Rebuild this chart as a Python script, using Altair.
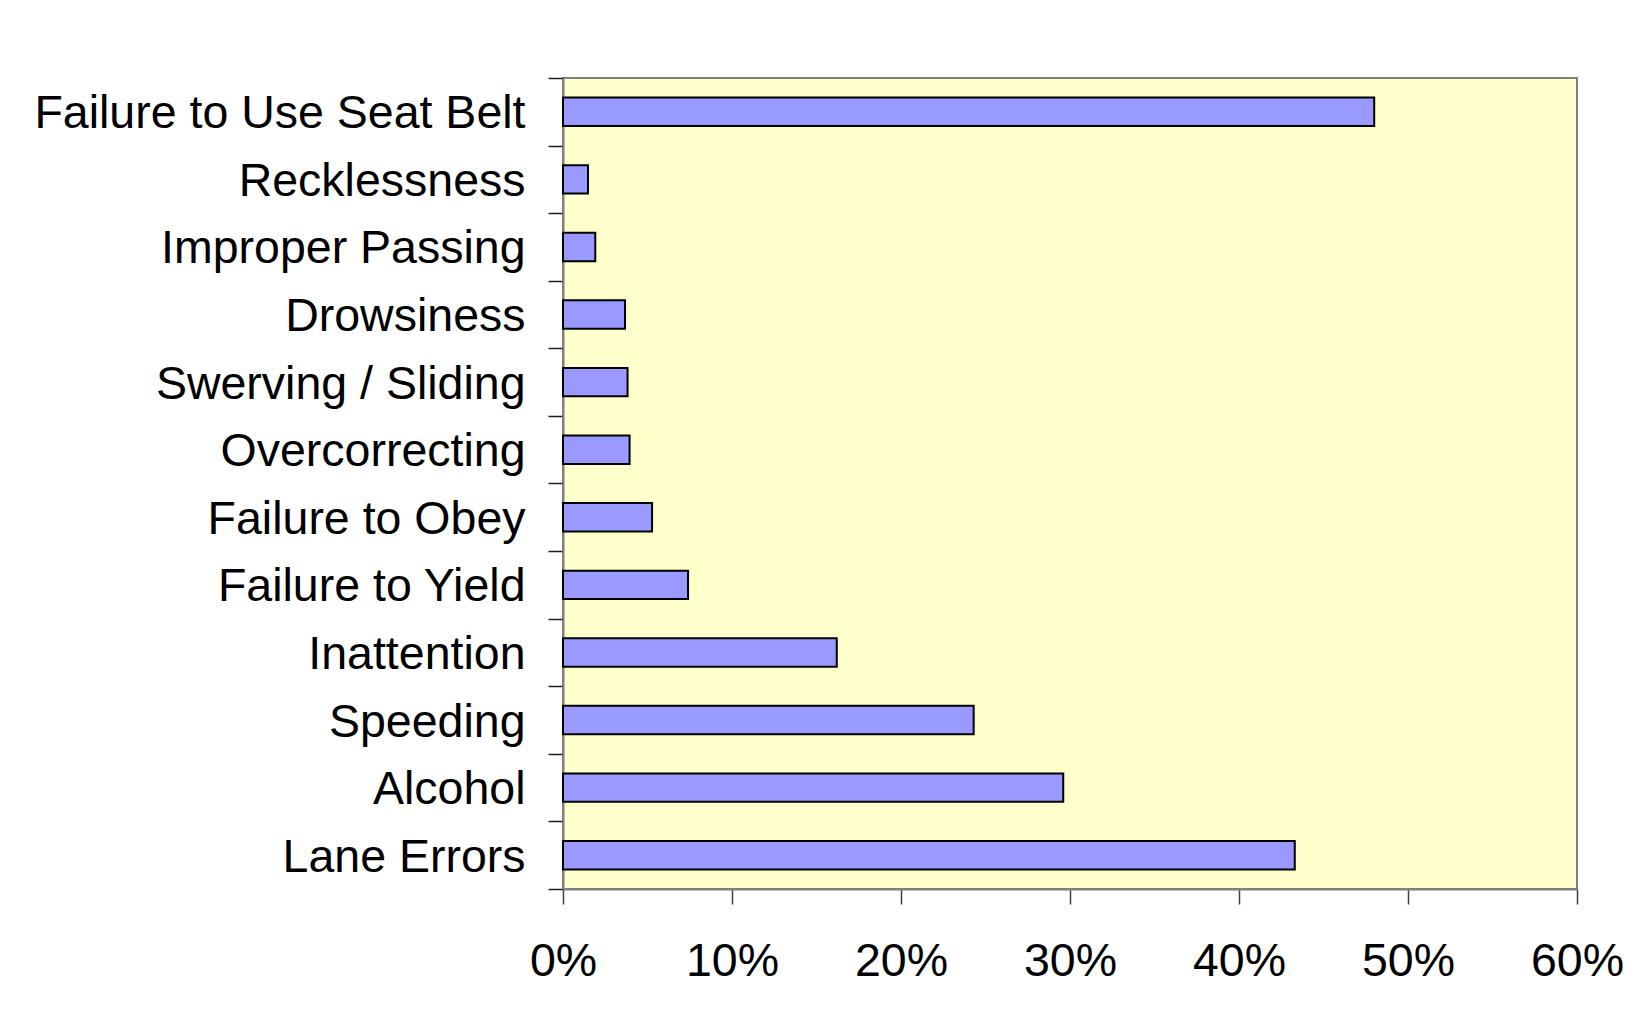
import altair as alt
import pandas as pd

categories = [
    "Failure to Use Seat Belt",
    "Recklessness",
    "Improper Passing",
    "Drowsiness",
    "Swerving / Sliding",
    "Overcorrecting",
    "Failure to Obey",
    "Failure to Yield",
    "Inattention",
    "Speeding",
    "Alcohol",
    "Lane Errors",
]
shares = [0.480, 0.0148, 0.0191, 0.0367, 0.0382, 0.0394, 0.0527, 0.074, 0.162, 0.243, 0.296, 0.433]
x_tick_values = [0.0, 0.1, 0.2, 0.3, 0.4, 0.5, 0.6]

df = pd.DataFrame({"cause": categories, "share": shares})

FONT = "Liberation Sans, Arial, Helvetica, sans-serif"

chart = (
    alt.Chart(df)
    .mark_bar(fill="#9999FF", stroke="#000000", strokeWidth=2, height=alt.RelativeBandSize(0.42))
    .encode(
        x=alt.X(
            "share:Q",
            title=None,
            scale=alt.Scale(domain=[0, 0.6], nice=False, zero=True),
            axis=alt.Axis(
                values=x_tick_values,
                format=".0%",
                grid=False,
                domainColor="#808080",
                domainWidth=2,
                tickColor="#404040",
                tickWidth=1.5,
                tickSize=15,
                labelFont=FONT,
                labelFontSize=46.5,
                labelColor="#000000",
                labelPadding=34,
                labelFlush=False,
                labelOverlap=False,
            ),
        ),
        y=alt.Y(
            "cause:N",
            title=None,
            sort=categories,
            scale=alt.Scale(paddingInner=0, paddingOuter=0),
            axis=alt.Axis(
                tickBand="extent",
                grid=False,
                domainColor="#808080",
                domainWidth=2,
                tickColor="#202020",
                tickWidth=1.5,
                tickSize=15,
                labelFont=FONT,
                labelFontSize=46.5,
                labelColor="#000000",
                labelPadding=23,
                labelOffset=2,
                labelLimit=0,
            ),
        ),
        tooltip=["cause", alt.Tooltip("share:Q", format=".1%")],
    )
    .properties(
        width=1014,
        height=811,
        autosize=alt.AutoSizeParams(type="none"),
        padding={"left": 555, "top": 70, "right": 60, "bottom": 110},
    )
    .configure(background="#FFFFFF")
    .configure_view(fill="#FFFFCC", stroke="#808080", strokeWidth=2)
)

chart.save("out.html", embed_options={"renderer": "svg", "actions": False})
